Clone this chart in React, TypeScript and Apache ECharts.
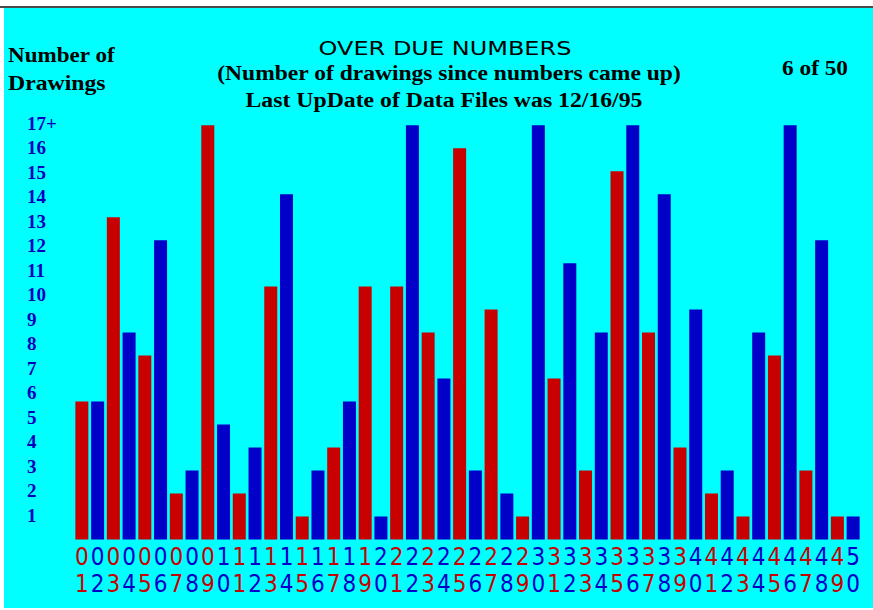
import React, { useEffect, useRef } from "react";
import * as echarts from "echarts";

// Lottery numbers 01..50 (x categories)
const numbers = [
  "01", "02", "03", "04", "05", "06", "07", "08", "09", "10",
  "11", "12", "13", "14", "15", "16", "17", "18", "19", "20",
  "21", "22", "23", "24", "25", "26", "27", "28", "29", "30",
  "31", "32", "33", "34", "35", "36", "37", "38", "39", "40",
  "41", "42", "43", "44", "45", "46", "47", "48", "49", "50",
];

// Bar levels as drawn (bar scale; level 18 is the capped "17+" bar)
const barLevels = [
  6, 6, 14, 9, 8, 13, 2, 3, 18, 5,
  2, 4, 11, 15, 1, 3, 4, 6, 11, 1,
  11, 18, 9, 7, 17, 3, 10, 2, 1, 18,
  7, 12, 3, 9, 16, 18, 9, 15, 4, 10,
  2, 3, 1, 9, 8, 18, 3, 13, 1, 1,
];

// Y tick labels
const yTickLabels = [
  "1", "2", "3", "4", "5", "6", "7", "8", "9", "10",
  "11", "12", "13", "14", "15", "16", "17+",
];

const titleText = "OVER DUE NUMBERS";
const subtitleText = "(Number of drawings since numbers came up)";
const updateText = "Last UpDate of Data Files was 12/16/95";
const yNameLines = ["Number of", "Drawings"];
const pageText = "6 of 50";

const RED = "#c80000";
const BLUE = "#0000c8";
const CYAN = "#00ffff";
const SERIF = "'Liberation Serif', 'DejaVu Serif', serif";
const NARROW = "'Liberation Sans Narrow', 'DejaVu Sans Condensed', 'Liberation Sans', sans-serif";

export default function App() {
  const ref = useRef<HTMLDivElement>(null);

  useEffect(() => {
    if (!ref.current) return;
    const chart = echarts.init(ref.current, undefined, { renderer: "svg" });

    const boldText = (text: string, x: number, y: number, align: string, sx: number) => ({
      type: "text",
      x,
      y,
      scaleX: sx,
      z: 10,
      style: {
        text,
        fill: "#000",
        font: `bold 22px ${SERIF}`,
        textAlign: align,
        textVerticalAlign: "middle",
      },
    });

    const option: any = {
      animation: false,
      backgroundColor: "#ffffff",
      graphic: [
        {
          type: "rect",
          z: -10,
          shape: { x: 4, y: 8, width: 869, height: 600 },
          style: { fill: CYAN },
        },
        {
          type: "rect",
          z: -9,
          shape: { x: 0, y: 6, width: 873, height: 2 },
          style: { fill: "#4a4a4a" },
        },
        {
          type: "text",
          x: 445,
          y: 48,
          scaleX: 1.2,
          z: 10,
          style: {
            text: titleText,
            fill: "#000",
            font: `20px 'DejaVu Sans', sans-serif`,
            textAlign: "center",
            textVerticalAlign: "middle",
          },
        },
        boldText(subtitleText, 449, 73, "center", 1.07),
        boldText(updateText, 444, 100, "center", 1.08),
        boldText(yNameLines[0], 8, 55, "left", 1.05),
        boldText(yNameLines[1], 8, 83, "left", 1.08),
        boldText(pageText, 782, 68, "left", 1.06),
      ],
      grid: { left: 74, right: 12, top: 123, bottom: 70.5, containLabel: false },
      xAxis: {
        type: "category",
        data: numbers,
        axisLine: { show: false },
        axisTick: { show: false },
        splitLine: { show: false },
        axisLabel: {
          interval: 0,
          margin: 4,
          formatter: (value: string, index: number) => {
            const c = index % 2 === 0 ? "r" : "b";
            return `{${c}|${value[0]}}\n{${c}|${value[1]}}`;
          },
          rich: {
            r: { color: RED, fontFamily: NARROW, fontSize: 24, lineHeight: 27 },
            b: { color: BLUE, fontFamily: NARROW, fontSize: 24, lineHeight: 27 },
          },
        },
      },
      yAxis: [
        {
          type: "value",
          min: 0,
          max: 17,
          interval: 1,
          axisLine: { show: false },
          axisTick: { show: false },
          splitLine: { show: false },
          axisLabel: {
            align: "left",
            margin: 47,
            color: "#0000c0",
            fontFamily: SERIF,
            fontWeight: "bold",
            fontSize: 19,
            formatter: (v: number) => (v >= 1 && v <= 17 ? yTickLabels[v - 1] : ""),
          },
        },
        {
          type: "value",
          min: 0,
          max: 18.1,
          show: false,
        },
      ],
      series: [
        {
          type: "bar",
          yAxisIndex: 1,
          barWidth: 13,
          data: barLevels.map((v, i) => ({
            value: v,
            itemStyle: { color: i % 2 === 0 ? RED : BLUE },
          })),
        },
      ],
    };

    chart.setOption(option);
    return () => chart.dispose();
  }, []);

  return (
    <div
      ref={ref}
      style={{ position: "fixed", left: 0, top: 0, width: 873, height: 610 }}
    />
  );
}
